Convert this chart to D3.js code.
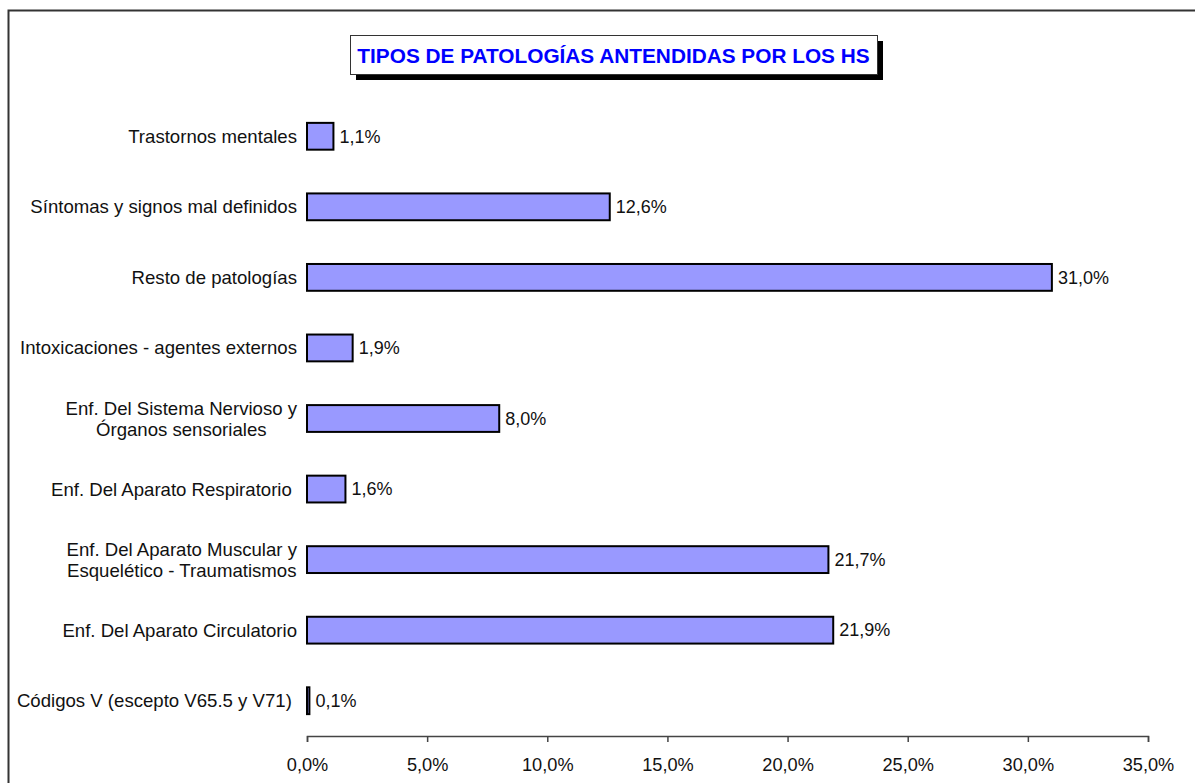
<!DOCTYPE html>
<head>
  <meta charset="utf-8">
  <script src="https://d3js.org/d3.v7.min.js"></script>
  <style>
    body { margin:0; background:#fff; }
    svg { display:block; }
    text { font-family: "Liberation Sans", Arial, sans-serif; }
  </style>
</head>

<body>
  <svg width="1195" height="783"></svg>
  <script>
    // datos (de arriba hacia abajo, como en el gráfico)
    var categorias = [
      'Trastornos mentales',
      'Síntomas y signos mal definidos',
      'Resto de patologías',
      'Intoxicaciones - agentes externos',
      'Enf. Del Sistema Nervioso y\nÓrganos sensoriales',
      'Enf. Del Aparato Respiratorio ',
      'Enf. Del Aparato Muscular y\nEsquelético - Traumatismos',
      'Enf. Del Aparato Circulatorio',
      'Códigos V (escepto V65.5 y V71) '
    ];
    var valores = [1.1, 12.6, 31.0, 1.9, 8.0, 1.6, 21.7, 21.9, 0.1];
    var ticksX = [0, 5, 10, 15, 20, 25, 30, 35];
    var titulo = 'TIPOS DE PATOLOGÍAS ANTENDIDAS POR LOS HS';

    var data = categorias.map((c, i) => ({cat: c, val: valores[i]}));

    var margin = {top: 101, bottom: 47, left: 307, right: 47};
    var width = 1195, height = 783;

    var svg = d3.select('svg');

    // marco exterior
    svg.append('rect')
      .attr('x', 8.5).attr('y', 10.5)
      .attr('width', 1300).attr('height', 900)
      .attr('fill', 'none')
      .attr('stroke', '#333')
      .attr('stroke-width', 2);

    // escalas
    var xScale = d3.scaleLinear()
      .domain([0, 35])
      .range([margin.left, width - margin.right]);

    var yScale = d3.scaleBand()
      .domain(categorias)
      .range([margin.top, height - margin.bottom])
      .paddingInner(0.62)
      .paddingOuter(0.31);

    var fmt = d => d3.format('.1f')(d).replace('.', ',') + '%';

    // eje x
    var ejeX = d3.axisBottom(xScale)
      .tickValues(ticksX)
      .tickSize(6)
      .tickPadding(16)
      .tickFormat(fmt);

    var gx = svg.append('g')
      .attr('transform', 'translate(0,' + (height - margin.bottom) + ')')
      .call(ejeX);
    gx.select('.domain').attr('stroke', '#444').attr('stroke-width', 1.5);
    gx.selectAll('.tick line').attr('stroke', '#444').attr('stroke-width', 1.5);
    gx.selectAll('.tick text')
      .attr('font-size', '18.2px')
      .attr('fill', '#111')
      .style('font-family', '"Liberation Sans", Arial, sans-serif');

    // barras
    svg.append('g').selectAll('rect')
      .data(data)
      .join('rect')
      .attr('x', xScale(0))
      .attr('y', d => yScale(d.cat))
      .attr('width', d => xScale(d.val) - xScale(0))
      .attr('height', yScale.bandwidth())
      .attr('fill', '#9999FF')
      .attr('stroke', '#000')
      .attr('stroke-width', 2);

    // etiquetas de valor
    svg.append('g').selectAll('text')
      .data(data)
      .join('text')
      .attr('x', d => xScale(d.val) + 6)
      .attr('y', d => yScale(d.cat) + yScale.bandwidth() / 2)
      .attr('dy', '0.35em')
      .attr('font-size', '18px')
      .attr('fill', '#111')
      .text(d => fmt(d.val));

    // etiquetas de categoría (centradas si tienen dos líneas)
    var lineH = 21;
    data.forEach(d => {
      var lineas = d.cat.split('\n');
      var cy = yScale(d.cat) + yScale.bandwidth() / 2;
      var t = svg.append('text')
        .attr('font-size', '18.6px')
        .attr('fill', '#111')
        .style('white-space', 'pre');
      lineas.forEach((l, i) => {
        t.append('tspan')
          .attr('y', cy + (i - (lineas.length - 1) / 2) * lineH)
          .attr('dy', '0.35em')
          .text(l);
      });
      var anchoMax = d3.max(t.selectAll('tspan').nodes(), n => n.getComputedTextLength());
      var derecha = xScale(0) - 10;
      if (lineas.length > 1) {
        t.attr('text-anchor', 'middle');
        t.selectAll('tspan').attr('x', derecha - anchoMax / 2);
      } else {
        t.attr('text-anchor', 'end');
        t.selectAll('tspan').attr('x', derecha);
      }
    });

    // título con sombra
    var tb = {x: 350, y: 35, w: 527, h: 39};
    svg.append('rect')
      .attr('x', tb.x + 6).attr('y', tb.y + 6)
      .attr('width', tb.w).attr('height', tb.h)
      .attr('fill', '#000');
    svg.append('rect')
      .attr('x', tb.x + 0.5).attr('y', tb.y + 0.5)
      .attr('width', tb.w).attr('height', tb.h)
      .attr('fill', '#fff')
      .attr('stroke', '#333')
      .attr('stroke-width', 1);
    svg.append('text')
      .attr('x', tb.x + tb.w / 2)
      .attr('y', tb.y + tb.h / 2 + 1)
      .attr('dy', '0.36em')
      .attr('text-anchor', 'middle')
      .attr('font-size', '20.8px')
      .attr('font-weight', 'bold')
      .attr('fill', '#0000FF')
      .text(titulo);
  </script>
</body>
